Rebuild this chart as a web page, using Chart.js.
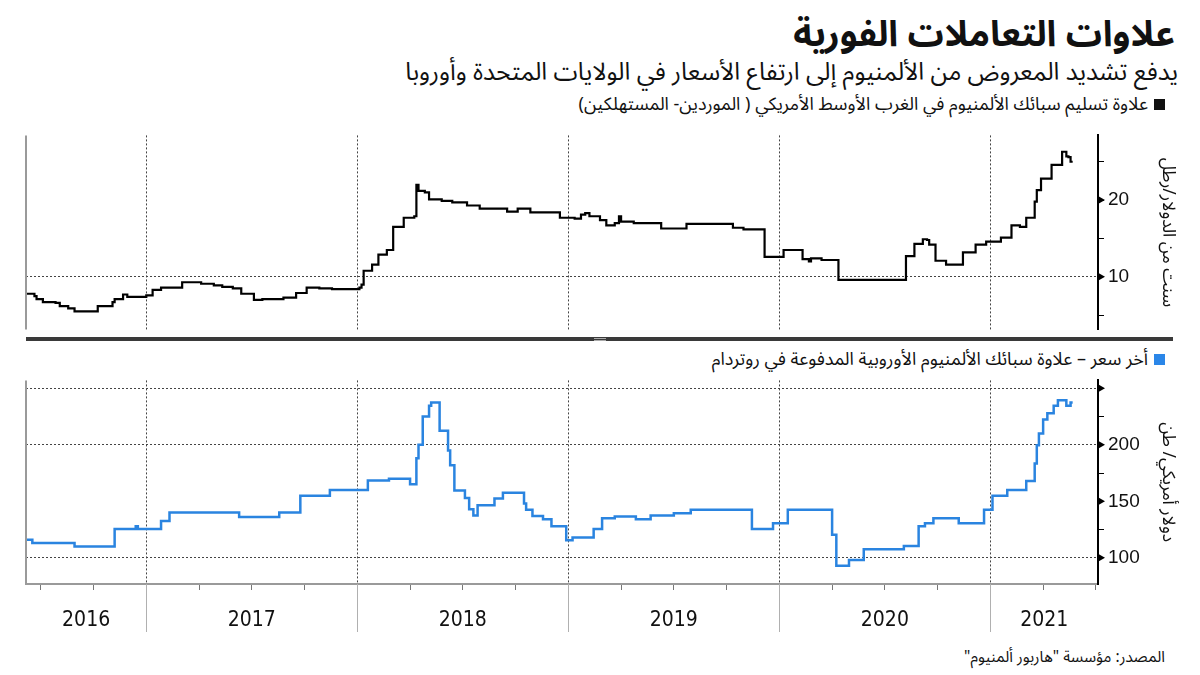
<!DOCTYPE html>
<html lang="ar">
<head>
<meta charset="utf-8">
<script src="https://cdn.jsdelivr.net/npm/chart.js"></script>
<style>
  body { margin: 0; width: 1200px; height: 675px; background: #fff; position: relative; overflow: hidden;
         font-family: "Noto Sans Arabic", "DejaVu Sans", sans-serif; color: #111; }
  .txt { position: absolute; direction: rtl; white-space: nowrap; }
  #title { right: 25px; top: -3px; font-size: 36px; font-weight: bold; }
  #subtitle { right: 22px; top: 46px; font-size: 24.5px; }
  .legend { font-size: 18px; }
  .legend span { display: inline-block; width: 11px; height: 11px; margin-left: 6px; vertical-align: 0px; }
  #leg1 { right: 35px; top: 85px; }
  #leg2 { right: 35px; top: 340px; }
  #source { right: 35px; top: 641px; font-size: 15.5px; }
  canvas { position: absolute; left: 0; }
  #topChart { top: 120px; }
  #bottomChart { top: 365px; }
  #bar { position: absolute; left: 26px; top: 337px; width: 1147px; height: 4px; background: #3a3a3a; }
  #grip { position: absolute; left: 594px; top: 338px; width: 12px; height: 1px; border-top: 1px solid #aaa; border-bottom: 1px solid #aaa; }
</style>
</head>
<body>
<div id="title" class="txt">علاوات التعاملات الفورية</div>
<div id="subtitle" class="txt">يدفع تشديد المعروض من الألمنيوم إلى ارتفاع الأسعار في الولايات المتحدة وأوروبا</div>
<div id="leg1" class="txt legend"><span style="background:#111"></span>علاوة تسليم سبائك الألمنيوم في الغرب الأوسط الأمريكي ( الموردين- المستهلكين)</div>
<div id="leg2" class="txt legend"><span style="background:#2a86e8"></span>أخر سعر – علاوة سبائك الألمنيوم الأوروبية المدفوعة في روتردام</div>
<div id="source" class="txt">المصدر: مؤسسة "هاربور ألمنيوم"</div>

<canvas id="topChart" width="1200" height="225"></canvas>
<div id="bar"></div><div id="grip"></div>
<canvas id="bottomChart" width="1200" height="280"></canvas>

<script>
// US Midwest premium (cents/lb), stepped series: decimal year -> value
const usDates = [2016.43, 2016.47, 2016.48, 2016.51, 2016.57, 2016.59, 2016.63, 2016.66, 2016.77, 2016.84,
  2016.85, 2016.89, 2016.91, 2017.00, 2017.03, 2017.07, 2017.17, 2017.26, 2017.32, 2017.36,
  2017.41, 2017.45, 2017.51, 2017.55, 2017.65, 2017.71, 2017.76, 2017.82, 2017.88, 2018.01,
  2018.02, 2018.03, 2018.07, 2018.10, 2018.14, 2018.17, 2018.22, 2018.27, 2018.28, 2018.29,
  2018.32, 2018.34, 2018.40, 2018.45, 2018.52, 2018.58, 2018.71, 2018.76, 2018.82, 2018.96,
  2019.03, 2019.06, 2019.08, 2019.10, 2019.15, 2019.18, 2019.22, 2019.24, 2019.25, 2019.31,
  2019.44, 2019.56, 2019.78, 2019.83, 2019.93, 2020.02, 2020.11, 2020.14, 2020.15, 2020.20,
  2020.28, 2020.60, 2020.64, 2020.68, 2020.70, 2020.71, 2020.74, 2020.79, 2020.87, 2020.93,
  2020.98, 2021.05, 2021.10, 2021.14, 2021.17, 2021.21, 2021.22, 2021.24, 2021.29, 2021.34,
  2021.36, 2021.37, 2021.38, 2021.39];
const usValues = [7.8, 7.5, 7.1, 6.7, 6.6, 6.2, 5.9, 5.5, 6.2, 6.7,
  7.1, 7.7, 7.4, 7.6, 8.3, 8.6, 9.3, 9.1, 8.9, 8.7,
  8.5, 7.8, 7.0, 7.1, 7.3, 7.9, 8.6, 8.5, 8.4, 8.6,
  9.0, 10.8, 11.6, 12.9, 13.5, 16.5, 17.7, 17.9, 22.0, 21.2,
  21.0, 20.1, 19.9, 19.7, 19.3, 18.9, 18.5, 18.9, 18.4, 17.7,
  17.6, 18.1, 18.3, 17.9, 17.4, 16.7, 17.0, 17.9, 17.2, 17.0,
  16.3, 16.9, 16.4, 16.2, 12.6, 13.5, 12.3, 12.0, 12.4, 12.2,
  9.6, 12.7, 14.3, 14.9, 14.8, 14.2, 12.1, 11.6, 13.2, 14.2,
  14.6, 15.1, 16.7, 16.5, 17.7, 19.8, 21.3, 22.8, 24.6, 26.3,
  25.7, 25.6, 25.0, 25.0];

// Rotterdam duty-paid premium (USD/t)
const euDates = [2016.43, 2016.46, 2016.66, 2016.85, 2016.95, 2016.96, 2017.07, 2017.11, 2017.44, 2017.63,
  2017.73, 2017.87, 2018.05, 2018.15, 2018.25, 2018.28, 2018.29, 2018.31, 2018.34, 2018.35,
  2018.39, 2018.43, 2018.44, 2018.46, 2018.51, 2018.53, 2018.55, 2018.57, 2018.65, 2018.69,
  2018.79, 2018.80, 2018.83, 2018.88, 2018.92, 2018.99, 2019.02, 2019.12, 2019.16, 2019.22,
  2019.32, 2019.39, 2019.50, 2019.58, 2019.87, 2019.97, 2020.04, 2020.25, 2020.27, 2020.33,
  2020.40, 2020.59, 2020.66, 2020.69, 2020.73, 2020.85, 2020.97, 2021.01, 2021.08, 2021.17,
  2021.21, 2021.22, 2021.23, 2021.25, 2021.27, 2021.30, 2021.32, 2021.36, 2021.38, 2021.39];
const euValues = [116, 113, 110, 125.5, 128, 125.5, 132.5, 140, 136, 140,
  155, 160, 168.5, 170, 165, 188, 200, 225, 234.5, 237.5,
  212.5, 195, 182, 159.5, 153, 143, 137.5, 146.5, 152.5, 157.5,
  148, 142.5, 137, 134, 128, 115.5, 118, 125.5, 135, 136.5,
  134, 137.5, 139.5, 142.5, 125.5, 130.5, 142.5, 120.5, 93, 98,
  107.5, 110.5, 128, 130.5, 135, 130.5, 142.5, 155, 160, 168,
  183.5, 199.5, 210, 222.5, 228, 234.5, 239.5, 234.5, 237.5, 237.5];

const years = [2016, 2017, 2018, 2019, 2020, 2021];
const quarterTicks = [2016.5, 2016.75, 2017, 2017.25, 2017.5, 2017.75, 2018, 2018.25, 2018.5, 2018.75,
  2019, 2019.25, 2019.5, 2019.75, 2020, 2020.25, 2020.5, 2020.75, 2021, 2021.25, 2021.5];

const usTicks = [5, 10, 15, 20, 25];
const usLabels = [10, 20];
const usMajor = [10, 20];
const usGrid = [10];

const euTicks = [100, 125, 150, 175, 200, 225, 250];
const euLabels = [100, 150, 200];
const euMajor = [100, 150, 200, 250];
const euGrid = [100, 200, 250];

const xMin = 2016.43, xMax = 2021.51;
const arabicFont = '"Noto Sans Arabic", "DejaVu Sans", sans-serif';
const clear = 'rgba(0,0,0,0)';

// left frame line, small triangles at the major y ticks, year labels
const decor = {
  id: 'decor',
  afterDraw(chart, args, opts) {
    const ctx = chart.ctx, a = chart.chartArea, ys = chart.scales.y, xs = chart.scales.x;
    ctx.save();
    ctx.strokeStyle = '#9a9a9a';
    ctx.lineWidth = 2;
    ctx.beginPath();
    ctx.moveTo(a.left, a.top);
    ctx.lineTo(a.left, a.bottom);
    ctx.stroke();

    ctx.fillStyle = '#000';
    opts.major.forEach(v => {
      const y = ys.getPixelForValue(v);
      ctx.beginPath();
      ctx.moveTo(a.right, y - 4);
      ctx.lineTo(a.right + 7, y);
      ctx.lineTo(a.right, y + 4);
      ctx.fill();
    });

    if (opts.years) {
      ctx.strokeStyle = '#b0b0b0';
      ctx.lineWidth = 1;
      ctx.fillStyle = '#111';
      ctx.font = '21px "Liberation Sans Narrow", "DejaVu Sans Condensed", sans-serif';
      ctx.textAlign = 'center';
      ctx.textBaseline = 'middle';
      years.forEach(yr => {
        const lo = Math.max(yr, xs.min), hi = Math.min(yr + 1, xs.max);
        const cx = (xs.getPixelForValue(lo) + xs.getPixelForValue(hi)) / 2;
        ctx.fillText(String(yr), cx, a.bottom + 37);
        if (yr > xs.min) {
          const px = Math.round(xs.getPixelForValue(yr)) + 0.5;
          ctx.beginPath();
          ctx.moveTo(px, a.bottom);
          ctx.lineTo(px, a.bottom + 48);
          ctx.stroke();
        }
      });
    }
    ctx.restore();
  }
};

function makeChart(id, dates, values, color, width, cfg) {
  const data = dates.map((d, i) => ({ x: d, y: values[i] }));
  return new Chart(document.getElementById(id), {
    type: 'line',
    data: {
      datasets: [{
        data: data,
        borderColor: color,
        borderWidth: width,
        pointRadius: 0,
        stepped: true,
        fill: false
      }]
    },
    options: {
      responsive: false,
      animation: false,
      layout: { padding: { left: 26, right: 22, top: 7, bottom: 5 } },
      plugins: {
        legend: { display: false },
        tooltip: { enabled: false },
        decor: { major: cfg.major, years: cfg.years }
      },
      scales: {
        x: {
          type: 'linear',
          min: xMin,
          max: xMax,
          afterBuildTicks: s => { s.ticks = quarterTicks.map(v => ({ value: v })); },
          afterFit: s => { s.height = cfg.xHeight; },
          ticks: { display: cfg.years, callback: () => '' },
          grid: {
            color: c => Number.isInteger(c.tick.value) ? '#444' : clear,
            drawTicks: cfg.years,
            tickLength: 6,
            tickColor: '#777',
            tickBorderDash: []
          },
          border: { display: cfg.years, color: '#9a9a9a', width: 2, dash: [2, 2] }
        },
        y: {
          position: 'right',
          min: cfg.min,
          max: cfg.max,
          afterBuildTicks: s => { s.ticks = cfg.ticks.map(v => ({ value: v })); },
          afterFit: s => { s.width = 80; },
          ticks: {
            callback: v => cfg.labels.includes(v) ? String(v) : '',
            font: { family: '"Liberation Sans", sans-serif', size: 19 },
            color: '#111',
            padding: 4
          },
          grid: {
            color: c => cfg.grid.includes(c.tick.value) ? '#444' : clear,
            tickColor: '#000',
            tickLength: 6,
            tickBorderDash: []
          },
          border: { color: '#000', width: 2, dash: [2, 2] },
          title: {
            display: true,
            text: cfg.title,
            font: { family: arabicFont, size: 17.5 },
            color: '#111',
            padding: 2
          }
        }
      }
    },
    plugins: [decor]
  });
}

makeChart('topChart', usDates, usValues, '#000', 2.2, {
  min: 3.13, max: 28.43, ticks: usTicks, labels: usLabels, major: usMajor, grid: usGrid,
  title: 'سنت من الدولار/رطل', years: false, xHeight: 3
});

makeChart('bottomChart', euDates, euValues, '#2a84e0', 2.5, {
  min: 76.8, max: 257, ticks: euTicks, labels: euLabels, major: euMajor, grid: euGrid,
  title: 'دولار أمريكي/ طن', years: true, xHeight: 56
});
</script>
</body>
</html>
